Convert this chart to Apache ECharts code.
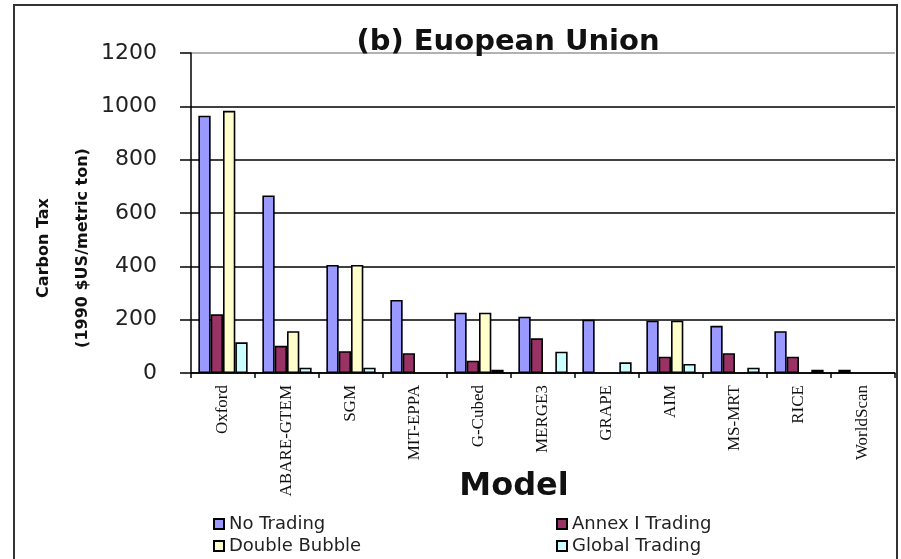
<!DOCTYPE html>
<html>
<head>
<meta charset="utf-8">
<script src="https://cdn.jsdelivr.net/npm/echarts@6/dist/echarts.min.js"></script>
<style>
html,body{margin:0;padding:0;background:#fff;}
#main{width:901px;height:559px;}
</style>
</head>
<body>
<div id="main"></div>
<script>
var categories = ['Oxford','ABARE-GTEM','SGM','MIT-EPPA','G-Cubed','MERGE3','GRAPE','AIM','MS-MRT','RICE','WorldScan'];
var noTrading = [965, 666, 405, 274, 226, 211, 200, 196, 177, 157, 12];
var annexTrading = [220, 102, 82, 74, 46, 130, null, 61, 74, 61, null];
var doubleBubble = [983, 157, 405, null, 226, null, null, 196, null, null, null];
var globalTrading = [115, 20, 20, null, 12, 80, 40, 34, 20, 12, null];
var yTicks = [0, 200, 400, 600, 800, 1000, 1200];

var chart = echarts.init(document.getElementById('main'));
function bar(name, data, color) {
  return {
    name: name, type: 'bar', data: data,
    barGap: '0%', barCategoryGap: '23%',
    itemStyle: { color: color, borderColor: '#000', borderWidth: 1.6 },
    emphasis: { disabled: true }
  };
}
var legendText = { fontFamily: 'DejaVu Sans', fontSize: 18, color: '#222', lineHeight: 17 };
chart.setOption({
  animation: false,
  backgroundColor: '#fff',
  grid: { left: 191, right: 6, top: 53, bottom: 186, containLabel: false },
  legend: [
    { orient: 'vertical', left: 213, top: 515, height: 60, padding: 0, itemWidth: 10, itemHeight: 10, itemGap: 4,
      data: ['No Trading', 'Double Bubble'], textStyle: legendText, icon: 'rect' },
    { orient: 'vertical', left: 556, top: 515, height: 60, padding: 0, itemWidth: 10, itemHeight: 10, itemGap: 4,
      data: ['Annex I Trading', 'Global Trading'], textStyle: legendText, icon: 'rect' }
  ],
  xAxis: {
    type: 'category', data: categories,
    axisLine: { lineStyle: { color: '#000', width: 1.5 } },
    axisTick: { show: true, length: 5, lineStyle: { color: '#000', width: 1.5 } },
    axisLabel: { rotate: 90, interval: 0, margin: 12, fontFamily: 'Liberation Serif', fontSize: 17, color: '#111' }
  },
  yAxis: {
    type: 'value', min: yTicks[0], max: yTicks[yTicks.length - 1], interval: 200,
    axisLine: { show: true, lineStyle: { color: '#000', width: 1.5 } },
    axisTick: { show: true, length: 11, lineStyle: { color: '#000', width: 1.5 } },
    axisLabel: { margin: 34, fontFamily: 'DejaVu Sans', fontSize: 22, color: '#222',
      formatter: function (v) { return String(v); } },
    splitLine: { show: true, lineStyle: { color: ['#000','#000','#000','#000','#000','#000','#999'], width: 1.5 } }
  },
  series: [
    bar('No Trading', noTrading, '#9999FF'),
    bar('Annex I Trading', annexTrading, '#993366'),
    bar('Double Bubble', doubleBubble, '#FFFFCC'),
    bar('Global Trading', globalTrading, '#CCFFFF')
  ],
  graphic: [
    { type: 'rect', silent: true, z: 100, shape: { x: 14, y: 5, width: 883, height: 580 },
      style: { fill: 'none', stroke: '#333', lineWidth: 2 } },
    { type: 'text', silent: true, z: 101, x: 508, y: 42,
      style: { text: '(b) Euopean Union', font: 'bold 29px "DejaVu Sans"', fill: '#111', align: 'center', verticalAlign: 'middle' } },
    { type: 'text', silent: true, z: 101, x: 63, y: 248, rotation: Math.PI / 2,
      style: { text: 'Carbon Tax\n(1990 $US/metric ton)', font: 'bold 16px "DejaVu Sans"', lineHeight: 39, fill: '#111', align: 'center', verticalAlign: 'middle' } },
    { type: 'text', silent: true, z: 101, x: 514, y: 487,
      style: { text: 'Model', font: 'bold 32px "DejaVu Sans"', fill: '#111', align: 'center', verticalAlign: 'middle' } }
  ]
});
</script>
</body>
</html>
